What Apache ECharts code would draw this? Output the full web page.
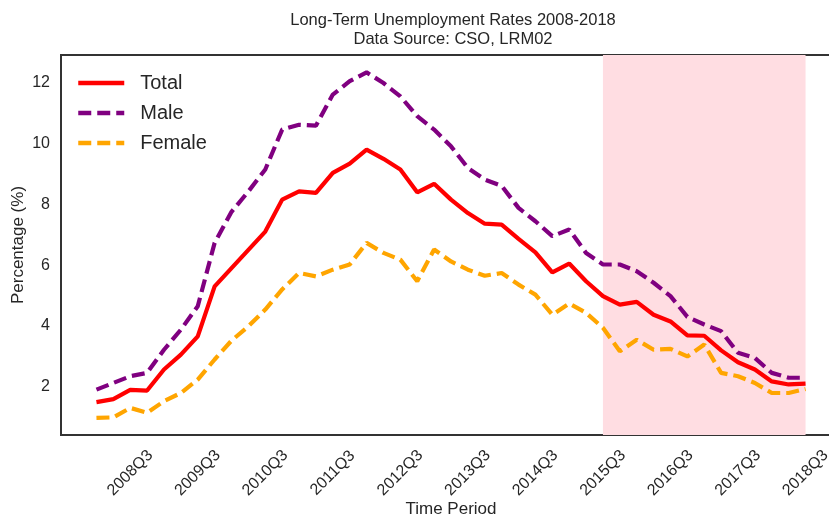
<!DOCTYPE html>
<html>
<head>
<meta charset="utf-8">
<script src="https://cdn.jsdelivr.net/npm/echarts@6/dist/echarts.min.js"></script>
<style>
html,body{margin:0;padding:0;background:#fff;}
#c{width:829px;height:517px;}
</style>
</head>
<body>
<div id="c"></div>
<script>
// Quarters 2008Q1 .. 2018Q3
const quarters = [];
for (let y = 2008; y <= 2018; y++) {
  for (let q = 1; q <= 4; q++) {
    if (y === 2018 && q > 3) break;
    quarters.push(y + 'Q' + q);
  }
}
const tickLabels = ['2008Q3','2009Q3','2010Q3','2011Q3','2012Q3','2013Q3','2014Q3','2015Q3','2016Q3','2017Q3','2018Q3'];
const yTicks = [2, 4, 6, 8, 10, 12];

const total = [1.5,1.6,1.9,1.88,2.57,3.06,3.66,5.3,5.9,6.5,7.1,8.15,8.42,8.37,9.03,9.33,9.79,9.49,9.14,8.39,
  8.67,8.15,7.71,7.36,7.33,6.86,6.42,5.76,6.05,5.47,4.98,4.7,4.79,4.37,4.15,3.69,3.68,3.2,2.81,2.57,2.18,2.08,2.11];
const male = [1.91,2.13,2.35,2.46,3.22,3.88,4.65,6.73,7.75,8.42,9.14,10.45,10.61,10.58,11.6,12.04,12.33,11.98,11.54,10.89,
  10.45,9.9,9.19,8.81,8.6,7.88,7.44,6.95,7.17,6.4,6.02,6.02,5.8,5.42,4.98,4.3,4.05,3.83,3.12,2.95,2.46,2.3,2.3];
const female = [0.98,1.0,1.31,1.15,1.53,1.8,2.24,2.9,3.52,3.99,4.54,5.2,5.74,5.63,5.85,6.02,6.73,6.4,6.18,5.47,
  6.51,6.12,5.85,5.65,5.74,5.36,5.03,4.37,4.74,4.43,3.94,3.17,3.55,3.22,3.25,3.0,3.39,2.46,2.35,2.13,1.8,1.8,1.93];
const shadeStart = '2015Q3';
const shadeEnd = '2018Q3';

const toPairs = arr => arr.map((v, i) => [i, v]);
const tickIdx = tickLabels.map(l => quarters.indexOf(l));
const FONT = 'Liberation Sans, Arial, sans-serif';
const TXT = '#262626';

const chart = echarts.init(document.getElementById('c'), null, {renderer: 'canvas'});
chart.setOption({
  animation: false,
  backgroundColor: '#fff',
  title: {
    text: 'Long-Term Unemployment Rates 2008-2018\nData Source: CSO, LRM02',
    left: 448, top: 6, textAlign: 'center',
    textStyle: {fontFamily: FONT, fontSize: 16.5, fontWeight: 'normal', color: TXT, lineHeight: 19}
  },
  legend: {
    data: ['Total', 'Male', 'Female'],
    orient: 'vertical', left: 71, top: 68,
    itemWidth: 46, itemHeight: 20, itemGap: 10,
    itemStyle: {opacity: 0},
    lineStyle: {width: 4.5},
    textStyle: {fontFamily: FONT, fontSize: 20, color: TXT, padding: [0, 0, 0, 11]}
  },
  grid: {
    left: 61, top: 55, width: 780, height: 380,
    outerBoundsMode: 'none', containLabel: false,
    show: true, borderColor: '#333', borderWidth: 2, backgroundColor: 'transparent'
  },
  xAxis: {
    type: 'value', min: -2.1, max: 44.1,
    name: 'Time Period', nameLocation: 'middle', nameGap: 66, nameMoveOverlap: false,
    nameTextStyle: {fontFamily: FONT, fontSize: 17, color: TXT},
    axisLine: {show: false}, axisTick: {show: false}, splitLine: {show: false},
    axisLabel: {
      customValues: tickIdx,
      formatter: v => quarters[Math.round(v)] || '',
      rotate: 45, align: 'center', verticalAlign: 'middle', margin: 38,
      fontFamily: FONT, fontSize: 16, color: TXT
    }
  },
  yAxis: {
    type: 'value', min: 0.42, max: 12.9,
    name: 'Percentage (%)', nameLocation: 'middle', nameGap: 34, nameMoveOverlap: false,
    nameTextStyle: {fontFamily: FONT, fontSize: 17, color: TXT},
    axisLine: {show: false}, axisTick: {show: false}, splitLine: {show: false},
    axisLabel: {customValues: yTicks, margin: 11, fontFamily: FONT, fontSize: 16, color: TXT}
  },
  series: [
    {
      name: 'shade', type: 'line', data: [], z: 1, silent: true,
      markArea: {
        silent: true,
        itemStyle: {color: '#ffdde2'},
        data: [[{xAxis: quarters.indexOf(shadeStart)}, {xAxis: quarters.indexOf(shadeEnd)}]]
      }
    },
    {
      name: 'Total', type: 'line', data: toPairs(total), z: 4,
      symbol: 'none', showSymbol: false,
      itemStyle: {color: '#ff0000'},
      lineStyle: {color: '#ff0000', width: 4.2}
    },
    {
      name: 'Male', type: 'line', data: toPairs(male), z: 3,
      symbol: 'none', showSymbol: false,
      itemStyle: {color: '#800080'},
      lineStyle: {color: '#800080', width: 4.2, type: [13, 6]}
    },
    {
      name: 'Female', type: 'line', data: toPairs(female), z: 3,
      symbol: 'none', showSymbol: false,
      itemStyle: {color: '#ffa500'},
      lineStyle: {color: '#ffa500', width: 4.2, type: [13, 6]}
    }
  ]
});
</script>
</body>
</html>
